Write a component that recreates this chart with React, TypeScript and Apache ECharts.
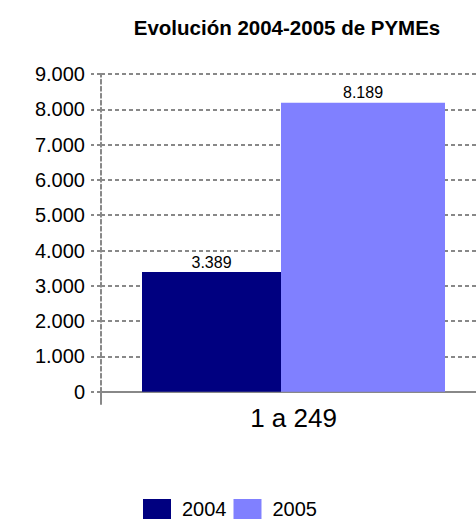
import React, { useEffect, useRef } from "react";
import * as echarts from "echarts";

const titleText = "Evolución 2004-2005 de PYMEs";
const categories = ["1 a 249"];
const seriesNames = ["2004", "2005"];
const values2004 = [3389];
const values2005 = [8189];

const FONT = "'Liberation Sans', Arial, sans-serif";
const GRAY = "#888888";

const fmt = (v: number) => {
  const s = Math.round(v).toString();
  return s.replace(/\B(?=(\d{3})+(?!\d))/g, ".");
};

export default function App() {
  const ref = useRef<HTMLDivElement>(null);
  useEffect(() => {
    if (!ref.current) return;
    const chart = echarts.init(ref.current, null, { renderer: "svg" });
    chart.setOption({
      animation: false,
      backgroundColor: "#ffffff",
      textStyle: { fontFamily: FONT },
      title: {
        text: titleText,
        left: 287,
        textAlign: "center",
        top: 17,
        padding: 0,
        textStyle: { fontFamily: FONT, fontSize: 20.5, fontWeight: "bold", color: "#000" },
      },
      legend: {
        data: seriesNames,
        left: 143,
        top: 499,
        padding: 0,
        itemWidth: 28,
        itemHeight: 20,
        itemGap: 7,
        icon: "rect",
        textStyle: { fontFamily: FONT, fontSize: 20, color: "#000", padding: [0, 0, 0, 6] },
      },
      grid: { left: 101, right: 14, top: 74, height: 317.7, containLabel: false },
      xAxis: {
        type: "category",
        data: categories,
        axisLine: { show: true, lineStyle: { color: GRAY, width: 2 } },
        axisTick: { show: true, length: 13, alignWithLabel: false, lineStyle: { color: GRAY, width: 2 } },
        axisLabel: { fontFamily: FONT, fontSize: 26, color: "#000", margin: 13 },
        splitLine: { show: false },
      },
      yAxis: {
        type: "value",
        min: 0,
        max: 9000,
        interval: 1000,
        axisLine: { show: true, lineStyle: { color: GRAY, width: 2, type: [4, 3] } },
        axisTick: { show: true, length: 10, lineStyle: { color: GRAY, width: 2, type: [4, 3] } },
        axisLabel: {
          fontFamily: FONT,
          fontSize: 20,
          color: "#000",
          margin: 16,
          formatter: (v: number) => fmt(v),
        },
        splitLine: { show: true, lineStyle: { color: GRAY, width: 2, type: [4, 3] } },
      },
      series: [
        {
          name: seriesNames[0],
          type: "bar",
          data: values2004,
          barWidth: 139,
          barGap: "0%",
          itemStyle: { color: "#000080" },
          label: {
            show: true,
            position: "top",
            distance: 2,
            fontFamily: FONT,
            fontSize: 16,
            color: "#000",
            formatter: (p: any) => fmt(p.value),
          },
        },
        {
          name: seriesNames[1],
          type: "bar",
          data: values2005,
          barWidth: 164,
          barGap: "0%",
          itemStyle: { color: "#8080FF" },
          label: {
            show: true,
            position: "top",
            distance: 2,
            fontFamily: FONT,
            fontSize: 16,
            color: "#000",
            formatter: (p: any) => fmt(p.value),
          },
        },
      ],
    });
    return () => chart.dispose();
  }, []);
  return (
    <div
      style={{ position: "absolute", left: 0, top: 0, width: 476, height: 520, overflow: "hidden" }}
    >
      <div ref={ref} style={{ position: "absolute", left: 0, top: 0, width: 500, height: 520 }} />
    </div>
  );
}
